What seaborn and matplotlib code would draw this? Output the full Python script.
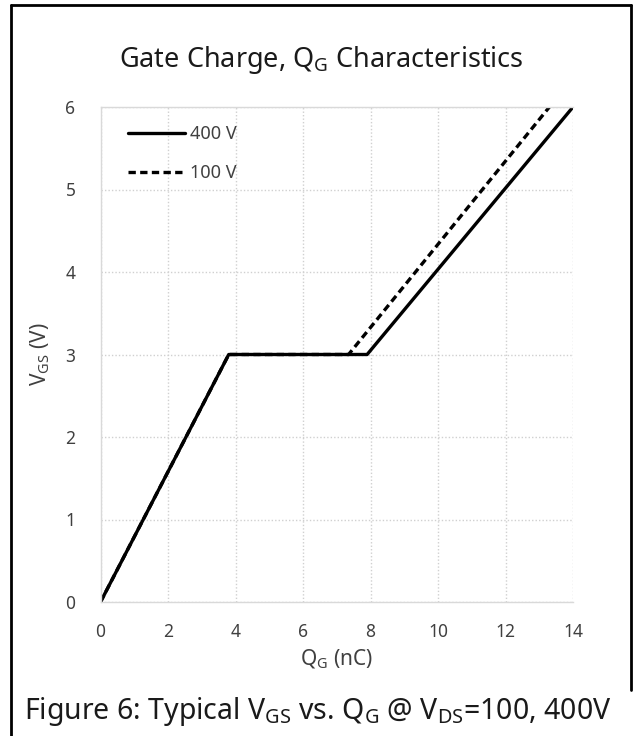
import matplotlib
matplotlib.use("Agg")
import matplotlib.pyplot as plt
from matplotlib.lines import Line2D
import seaborn as sns
import pandas as pd

# Gate charge curves (Q_G in nC, V_GS in V)
q_400 = [0.0, 3.8, 7.9, 14.0]
v_400 = [0.0, 3.0, 3.0, 6.0]
q_100 = [0.0, 3.8, 7.35, 13.3]
v_100 = [0.0, 3.0, 3.0, 6.0]
series_names = ["400 V", "100 V"]

x_ticks = [0, 2, 4, 6, 8, 10, 12, 14]
y_ticks = [0, 1, 2, 3, 4, 5, 6]

df = pd.concat([
    pd.DataFrame({"Q": q_100, "V": v_100, "series": "100 V"}),
    pd.DataFrame({"Q": q_400, "V": v_400, "series": "400 V"}),
], ignore_index=True)

sns.set_theme(style="white")
plt.rcParams["font.family"] = ["Noto Sans", "DejaVu Sans"]
plt.rcParams["mathtext.default"] = "regular"

W, H = 639, 736
fig = plt.figure(figsize=(W / 100, H / 100), dpi=100)
ax = fig.add_axes([100.5 / W, 1 - 602 / H, (573 - 100.5) / W, (602 - 107) / H])

dash_pattern = (2.2, 1.3)
dash_styles = {"400 V": "", "100 V": dash_pattern}
sns.lineplot(data=df, x="Q", y="V", style="series", style_order=["100 V", "400 V"],
             dashes=dash_styles, color="black", linewidth=2.4, sort=False,
             estimator=None, legend=False, ax=ax)

ax.set_xlim(0, 14)
ax.set_ylim(0, 6)
ax.set_xticks(x_ticks)
ax.set_yticks(y_ticks)
ax.set_xticklabels([str(t) for t in x_ticks])
ax.set_yticklabels([str(t) for t in y_ticks])
ax.tick_params(axis="both", length=0, labelsize=12.5, colors="#404040")
ax.tick_params(axis="x", pad=15)
ax.tick_params(axis="y", pad=18)

ax.grid(True, color="#d0d0d0", linestyle=(0, (1, 1.5)), linewidth=1.0)
for side in ["left", "top", "bottom"]:
    ax.spines[side].set_color("#d9d9d9")
    ax.spines[side].set_linewidth(1.0)
ax.spines["right"].set_visible(False)

ax.set_xlabel("$Q_G$ (nC)", fontsize=15, color="#404040", labelpad=5)
ax.set_ylabel("$V_{GS}$ (V)", fontsize=15, color="#404040", labelpad=10)

handles = [
    Line2D([], [], color="black", linewidth=2.4, linestyle="-"),
    Line2D([], [], color="black", linewidth=2.4, linestyle=(0, dash_pattern)),
]
leg = ax.legend(handles, series_names, loc="upper left", frameon=False,
                fontsize=13, handlelength=3.15, handletextpad=0.3,
                labelspacing=1.15, borderaxespad=0.6, bbox_to_anchor=(0.02, 1.0))
for t in leg.get_texts():
    t.set_color("#404040")

fig.text(321 / W, 1 - 60 / H, "Gate Charge, $Q_G$ Characteristics",
         ha="center", va="center", fontsize=19.5, color="#1a1a1a")

fig.text(318 / W, 1 - 712 / H,
         "Figure 6: Typical $V_{GS}$ vs. $Q_G$ @ $V_{DS}$=100, 400V",
         ha="center", va="center", fontsize=20.5, color="#1a1a1a")

# outer frame around the chart
frame_kw = dict(color="black", linewidth=2.0, transform=fig.transFigure)
fig.add_artist(Line2D([11 / W, 11 / W], [0, 1 - 5 / H], **frame_kw))
fig.add_artist(Line2D([11 / W, 631 / W], [1 - 5 / H, 1 - 5 / H], **frame_kw))
fig.add_artist(Line2D([631 / W, 631 / W], [1 - 690 / H, 1 - 5 / H], **frame_kw))

fig.savefig("out.png", dpi=100, facecolor="white")
